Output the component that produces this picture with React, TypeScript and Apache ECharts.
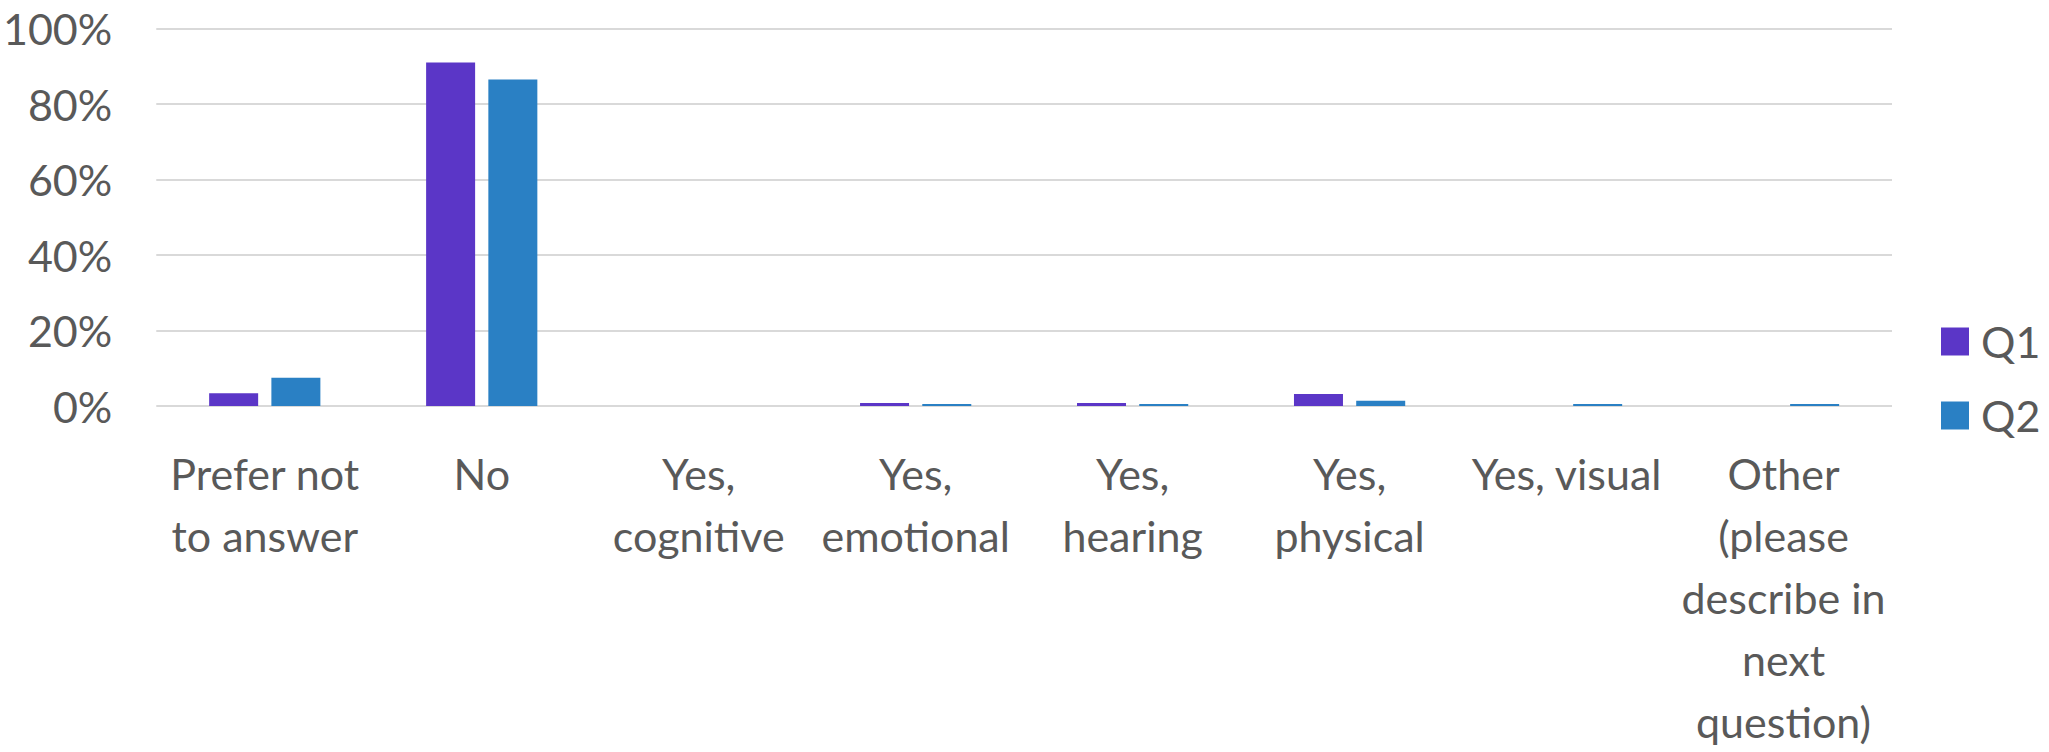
import React, { useEffect, useRef } from "react";
import * as echarts from "echarts";

const categories = [
  "Prefer not\nto answer",
  "No",
  "Yes,\ncognitive",
  "Yes,\nemotional",
  "Yes,\nhearing",
  "Yes,\nphysical",
  "Yes, visual",
  "Other\n(please\ndescribe in\nnext\nquestion)",
];
const q1Values = [3.4, 91.0, 0, 0.8, 0.8, 3.2, 0, 0];
const q2Values = [7.5, 86.5, 0, 0.5, 0.5, 1.4, 0.5, 0.5];
const seriesNames = ["Q1", "Q2"];
const colors = ["#5B36C7", "#2A80C4"];

const FONT = "Lato, 'Noto Sans', sans-serif";
const TEXT = "#595959";

export default function App() {
  const ref = useRef<HTMLDivElement>(null);
  useEffect(() => {
    if (!ref.current) return;
    const chart = echarts.init(ref.current, null, { renderer: "svg" });
    chart.setOption({
      animation: false,
      backgroundColor: "#ffffff",
      grid: { left: 151, right: 157, top: 28.5, bottom: 340.5, containLabel: false },
      legend: {
        orient: "vertical",
        left: 1936,
        top: 315,
        itemWidth: 28,
        itemHeight: 28,
        itemGap: 31,
        icon: "rect",
        textStyle: { color: TEXT, fontSize: 43, fontFamily: FONT, padding: [0, 0, 0, 7] },
        data: seriesNames,
      },
      xAxis: {
        type: "category",
        data: categories,
        axisLine: { show: false },
        axisTick: { show: false },
        axisLabel: {
          color: TEXT,
          fontSize: 43,
          fontFamily: FONT,
          lineHeight: 62,
          margin: 36,
          interval: 0,
          align: "center",
        },
      },
      yAxis: {
        type: "value",
        min: 0,
        max: 100,
        interval: 20,
        axisLine: { show: false },
        axisTick: { show: false },
        axisLabel: {
          color: TEXT,
          fontSize: 43,
          fontFamily: FONT,
          margin: 44,
          formatter: "{value}%",
        },
        splitLine: { lineStyle: { color: "#D9D9D9", width: 2 } },
      },
      series: [
        {
          name: seriesNames[0],
          type: "bar",
          data: q1Values,
          barWidth: 49,
          barGap: "27%",
          itemStyle: { color: colors[0] },
        },
        {
          name: seriesNames[1],
          type: "bar",
          data: q2Values,
          barWidth: 49,
          barGap: "27%",
          itemStyle: { color: colors[1] },
        },
      ],
    });
    return () => chart.dispose();
  }, []);
  return (
    <div
      ref={ref}
      style={{ position: "fixed", left: 0, top: 0, width: 2049, height: 752 }}
    />
  );
}
